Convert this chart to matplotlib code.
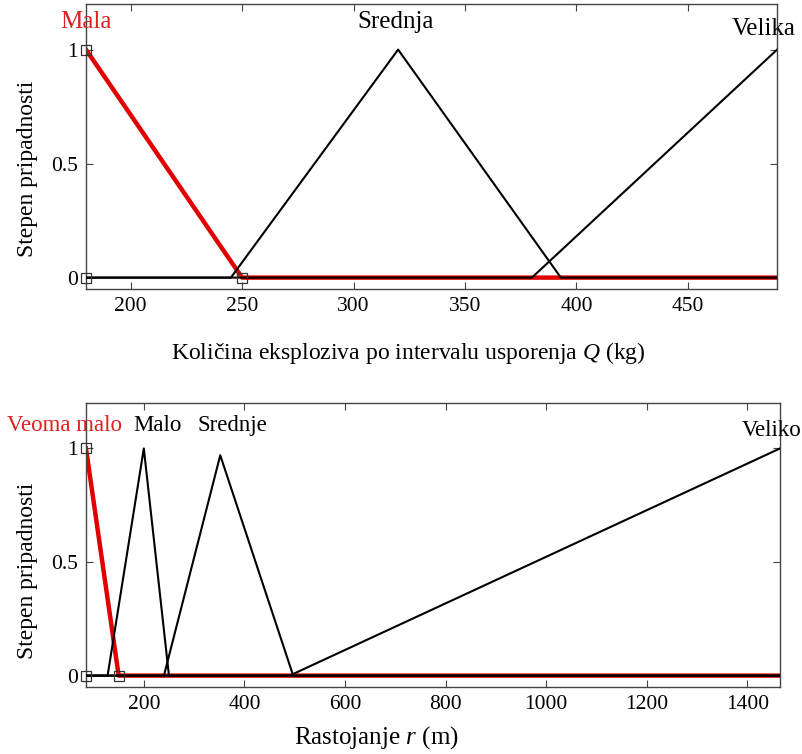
import matplotlib.pyplot as plt

plt.rcParams['font.family'] = ['Liberation Serif', 'DejaVu Serif']
plt.rcParams['mathtext.fontset'] = 'custom'
plt.rcParams['mathtext.it'] = 'Liberation Serif:italic'
plt.rcParams['mathtext.rm'] = 'Liberation Serif'

# Kolicina eksploziva Q (kg)
q_range = [180, 490]
q_ticks = [200, 250, 300, 350, 400, 450]
mala_x = [180, 250, 490]
mala_y = [1, 0, 0]
srednja_x = [180, 245, 320, 393, 490]
srednja_y = [0, 0, 1, 0, 0]
velika_x = [180, 380, 490]
velika_y = [0, 0, 1]
mala_pts_x = [180, 180, 250]
mala_pts_y = [0, 1, 0]

# Rastojanje r (m)
r_range = [85, 1465]
r_ticks = [200, 400, 600, 800, 1000, 1200, 1400]
veoma_malo_x = [85, 150, 1465]
veoma_malo_y = [1, 0, 0]
malo_x = [85, 128, 200, 250, 1465]
malo_y = [0, 0, 1, 0, 0]
srednje_x = [85, 240, 352, 497, 1465]
srednje_y = [0, 0, 0.97, 0, 0]
veliko_x = [85, 490, 1465]
veliko_y = [0, 0, 1]
vm_pts_x = [85, 85, 150]
vm_pts_y = [0, 1, 0]

fig = plt.figure(figsize=(8.02, 7.54), dpi=100)
ax1 = fig.add_axes([0.1072, 0.6167, 0.8618, 0.378])
ax2 = fig.add_axes([0.1072, 0.0889, 0.8654, 0.3766])


def style_axis(ax, xr, xt):
    ax.set_xlim(xr)
    ax.set_ylim(-0.05, 1.2)
    ax.set_xticks(xt)
    ax.set_yticks([0, 0.5, 1])
    ax.set_yticklabels(['0', '0.5', '1'])
    ax.tick_params(direction='in', top=True, right=True, length=5,
                   width=0.8, labelsize=15.5, color='#444444', pad=6)
    for s in ax.spines.values():
        s.set_color('#444444')
        s.set_linewidth(1.0)
    ax.set_ylabel('Stepen pripadnosti', fontsize=17)


# top panel
ax1.plot(mala_x, mala_y, color='#e00000', lw=3.2, zorder=2)
ax1.plot(srednja_x, srednja_y, color='black', lw=1.5, zorder=3)
ax1.plot(velika_x, velika_y, color='black', lw=1.5, zorder=3)
ax1.plot(mala_pts_x, mala_pts_y, ls='none', marker='s', ms=7, mfc='none',
         mec='#333333', mew=0.9, zorder=4, clip_on=False)
style_axis(ax1, q_range, q_ticks)
ax1.set_xlabel('Količina eksploziva po intervalu usporenja $Q$ (kg)', fontsize=17)
ax1.xaxis.set_label_coords(0.467, -0.178)
ax1.yaxis.set_label_coords(-0.069, 0.42)
ax1.text(180, 1.12, 'Mala', color='#e02020', fontsize=18, ha='center', va='center', clip_on=False)
ax1.text(319, 1.12, 'Srednja', fontsize=18, ha='center', va='center', clip_on=False)
ax1.text(484, 1.09, 'Velika', fontsize=18, ha='center', va='center', clip_on=False)

# bottom panel
ax2.plot(veoma_malo_x, veoma_malo_y, color='#e00000', lw=3.2, zorder=2)
ax2.plot(malo_x, malo_y, color='black', lw=1.5, zorder=3)
ax2.plot(srednje_x, srednje_y, color='black', lw=1.5, zorder=3)
ax2.plot(veliko_x, veliko_y, color='black', lw=1.5, zorder=3)
ax2.plot(vm_pts_x, vm_pts_y, ls='none', marker='s', ms=7, mfc='none',
         mec='#333333', mew=0.9, zorder=4, clip_on=False)
style_axis(ax2, r_range, r_ticks)
ax2.set_xlabel('Rastojanje $r$ (m)', fontsize=18)
ax2.xaxis.set_label_coords(0.419, -0.13)
ax2.yaxis.set_label_coords(-0.069, 0.41)
ax2.text(43, 1.10, 'Veoma malo', color='#e02020', fontsize=16.5, ha='center', va='center', clip_on=False)
ax2.text(227, 1.10, 'Malo', fontsize=16.5, ha='center', va='center', clip_on=False)
ax2.text(377, 1.10, 'Srednje', fontsize=16.5, ha='center', va='center', clip_on=False)
ax2.text(1449, 1.08, 'Veliko', fontsize=16.5, ha='center', va='center', clip_on=False)

fig.savefig('out.png', dpi=100, facecolor='white')
